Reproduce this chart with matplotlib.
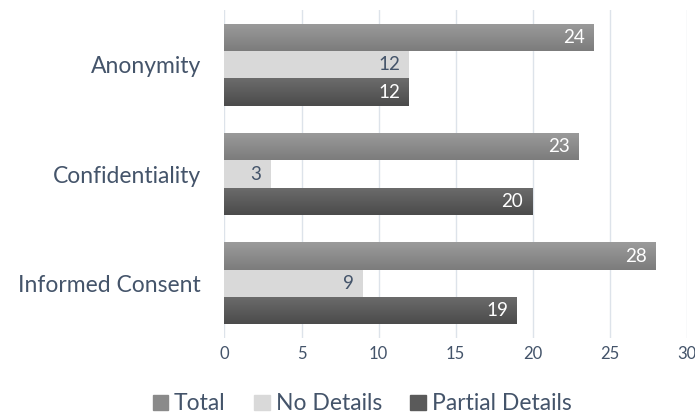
import numpy as np
import matplotlib
matplotlib.use('Agg')
import matplotlib.pyplot as plt
from matplotlib.patches import Patch

# datos del grafico
categorias = ['Anonymity', 'Confidentiality', 'Informed Consent']
total = [24, 23, 28]
sin_detalles = [12, 3, 9]
detalles_parciales = [12, 20, 19]
series = ['Total', 'No Details', 'Partial Details']

texto = '#44546A'
plt.rcParams['font.family'] = ['Lato', 'DejaVu Sans']

fig = plt.figure(figsize=(6.95, 4.19), dpi=100)
ax = fig.add_axes([0.323, 0.193, 0.665, 0.783])

y = np.arange(len(categorias))
h = 0.25

# gradientes verticales (arriba claro, abajo oscuro)
def barras_gradiente(ys, vals, c_top, c_bot):
    bars = ax.barh(ys, vals, height=h, color=c_bot, zorder=2)
    grad = np.linspace(0, 1, 64).reshape(-1, 1)
    top = np.array(matplotlib.colors.to_rgb(c_top))
    bot = np.array(matplotlib.colors.to_rgb(c_bot))
    img = top + (bot - top) * grad[:, :, None]
    for b in bars:
        x0, y0 = b.get_x(), b.get_y()
        im = ax.imshow(img, extent=[x0, x0 + b.get_width(), y0 + h, y0],
                       aspect='auto', zorder=3, interpolation='bilinear')
        im.set_clip_path(b)
    return bars

b1 = barras_gradiente(y - h, total, '#9b9b9b', '#7c7c7c')
b2 = ax.barh(y, sin_detalles, height=h, color='#d9d9d9', zorder=2)
b3 = barras_gradiente(y + h, detalles_parciales, '#6c6c6c', '#4b4b4b')

for bars, vals, col in [(b1, total, 'white'), (b2, sin_detalles, texto),
                        (b3, detalles_parciales, 'white')]:
    for b, v in zip(bars, vals):
        ax.text(v - 0.6, b.get_y() + h / 2, str(v), ha='right', va='center',
                color=col, fontsize=13.5, zorder=4)

ax.set_xlim(0, 30)
ax.set_ylim(2.5, -0.5)
ax.set_xticks(range(0, 31, 5))
ax.set_yticks(y)
ax.set_yticklabels(categorias, fontsize=16.5, color=texto)
ax.tick_params(axis='x', labelsize=12, colors=texto, length=0, pad=6)
ax.tick_params(axis='y', length=0, pad=17)
ax.grid(axis='x', color='#dde3ea', linewidth=1, zorder=0)
for s in ax.spines.values():
    s.set_visible(False)

handles = [Patch(color='#8a8a8a'), Patch(color='#d9d9d9'), Patch(color='#5a5a5a')]
fig.legend(handles, series, loc='center', bbox_to_anchor=(0.521, 0.036), ncol=3,
           frameon=False, fontsize=16.5, labelcolor=texto, handlelength=0.68,
           handleheight=0.68, handletextpad=0.25, columnspacing=1.25)

plt.savefig('out.png', dpi=100)
